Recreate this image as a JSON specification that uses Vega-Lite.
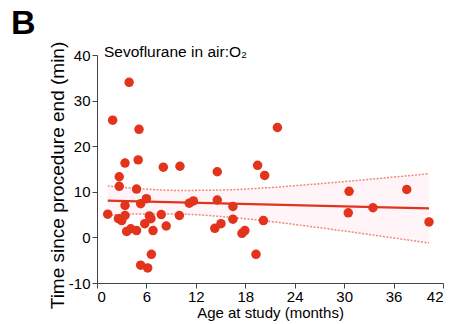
{
  "$schema": "https://vega.github.io/schema/vega-lite/v6.json",
  "width": 346,
  "height": 228,
  "autosize": {"type": "none"},
  "padding": {"left": 97, "top": 55, "right": 12, "bottom": 41},
  "background": "white",
  "title": {"text": "B", "anchor": "start", "frame": "group", "dx": -86, "offset": 0, "fontSize": 34, "fontWeight": "bold", "font": "Liberation Sans", "color": "black"},
  "config": {
    "view": {"stroke": null},
    "axis": {"grid": false, "domainColor": "#444", "tickColor": "#444", "labelFont": "Liberation Sans", "titleFont": "Liberation Sans", "labelColor": "black", "titleColor": "black", "labelFontSize": 15, "titleFontWeight": "normal"}
  },
  "datasets": {
    "pts": [
      {"m": 1.3, "v": 5.1}, {"m": 1.9, "v": 25.7}, {"m": 2.7, "v": 13.3}, {"m": 2.7, "v": 11.2},
      {"m": 2.6, "v": 4.1}, {"m": 3.0, "v": 3.7}, {"m": 3.4, "v": 4.8}, {"m": 3.4, "v": 7.0},
      {"m": 3.4, "v": 16.3}, {"m": 3.6, "v": 1.3}, {"m": 3.9, "v": 34.0}, {"m": 4.1, "v": 1.9},
      {"m": 4.8, "v": 10.6}, {"m": 4.8, "v": 1.5}, {"m": 5.0, "v": 17.0}, {"m": 5.1, "v": 23.7},
      {"m": 5.3, "v": 7.4}, {"m": 5.3, "v": -6.1}, {"m": 5.8, "v": 3.0}, {"m": 6.0, "v": 8.5},
      {"m": 6.15, "v": -6.7}, {"m": 6.35, "v": 4.7}, {"m": 6.55, "v": 4.1}, {"m": 6.6, "v": -3.7},
      {"m": 6.8, "v": 1.5}, {"m": 7.8, "v": 5.0}, {"m": 8.05, "v": 15.4}, {"m": 8.4, "v": 2.5},
      {"m": 10.0, "v": 4.8}, {"m": 10.07, "v": 15.6}, {"m": 11.2, "v": 7.5}, {"m": 11.7, "v": 8.0},
      {"m": 14.3, "v": 2.0}, {"m": 14.6, "v": 14.4}, {"m": 14.6, "v": 8.2}, {"m": 15.05, "v": 3.0},
      {"m": 16.5, "v": 6.8}, {"m": 16.5, "v": 4.0}, {"m": 17.6, "v": 0.9}, {"m": 17.95, "v": 1.5},
      {"m": 19.3, "v": -3.7}, {"m": 19.5, "v": 15.8}, {"m": 20.2, "v": 3.7}, {"m": 20.35, "v": 13.6},
      {"m": 21.9, "v": 24.1}, {"m": 30.6, "v": 10.1}, {"m": 30.5, "v": 5.4}, {"m": 33.5, "v": 6.5},
      {"m": 37.6, "v": 10.5}, {"m": 40.3, "v": 3.4}
    ],
    "band": [
      {"m": 1.3, "fit": 8.08, "lo": 4.86, "hi": 11.30},
      {"m": 5, "fit": 7.92, "lo": 5.12, "hi": 10.72},
      {"m": 10, "fit": 7.70, "lo": 5.10, "hi": 10.30},
      {"m": 15, "fit": 7.48, "lo": 4.58, "hi": 10.38},
      {"m": 20, "fit": 7.26, "lo": 3.70, "hi": 10.82},
      {"m": 25, "fit": 7.04, "lo": 2.60, "hi": 11.48},
      {"m": 30, "fit": 6.82, "lo": 1.40, "hi": 12.24},
      {"m": 35, "fit": 6.60, "lo": 0.14, "hi": 13.06},
      {"m": 40.3, "fit": 6.37, "lo": -1.23, "hi": 13.97}
    ],
    "lab": [{"m": 0.85, "v": 40, "t": "Sevoflurane in air:O₂"}]
  },
  "layer": [
    {
      "data": {"name": "band"},
      "mark": {"type": "area", "color": "#fff5f8", "interpolate": "monotone"},
      "encoding": {
        "x": {"field": "m", "type": "quantitative", "scale": {"domain": [0, 42], "nice": false}, "axis": {"values": [0, 6, 12, 18, 24, 30, 36, 42], "title": "Age at study (months)", "titleFontSize": 15, "titlePadding": 1, "labelPadding": 1, "tickSize": 5}},
        "y": {"field": "lo", "type": "quantitative", "scale": {"domain": [-10, 40], "nice": false}, "axis": {"values": [-10, 0, 10, 20, 30, 40], "labelExpr": "'' + datum.value", "title": "Time since procedure end (min)", "titleFontSize": 19, "titlePadding": 1, "titleY": 120, "labelPadding": 2, "tickSize": 5}},
        "y2": {"field": "hi"}
      }
    },
    {
      "data": {"name": "band"},
      "mark": {"type": "line", "color": "#e8584a", "opacity": 0.7, "strokeWidth": 1.5, "strokeDash": [2, 1.5], "interpolate": "monotone"},
      "encoding": {"x": {"field": "m", "type": "quantitative"}, "y": {"field": "lo", "type": "quantitative"}}
    },
    {
      "data": {"name": "band"},
      "mark": {"type": "line", "color": "#e8584a", "opacity": 0.7, "strokeWidth": 1.5, "strokeDash": [2, 1.5], "interpolate": "monotone"},
      "encoding": {"x": {"field": "m", "type": "quantitative"}, "y": {"field": "hi", "type": "quantitative"}}
    },
    {
      "data": {"name": "band"},
      "mark": {"type": "line", "color": "#e2341d", "strokeWidth": 2.2},
      "encoding": {"x": {"field": "m", "type": "quantitative"}, "y": {"field": "fit", "type": "quantitative"}}
    },
    {
      "data": {"name": "pts"},
      "mark": {"type": "point", "filled": true, "size": 90, "color": "#e2341d", "opacity": 1},
      "encoding": {"x": {"field": "m", "type": "quantitative"}, "y": {"field": "v", "type": "quantitative"}}
    },
    {
      "data": {"name": "lab"},
      "mark": {"type": "text", "align": "left", "baseline": "alphabetic", "dy": 2, "fontSize": 15.5, "font": "Liberation Sans", "color": "black"},
      "encoding": {"x": {"field": "m", "type": "quantitative"}, "y": {"field": "v", "type": "quantitative"}, "text": {"field": "t"}}
    }
  ]
}
